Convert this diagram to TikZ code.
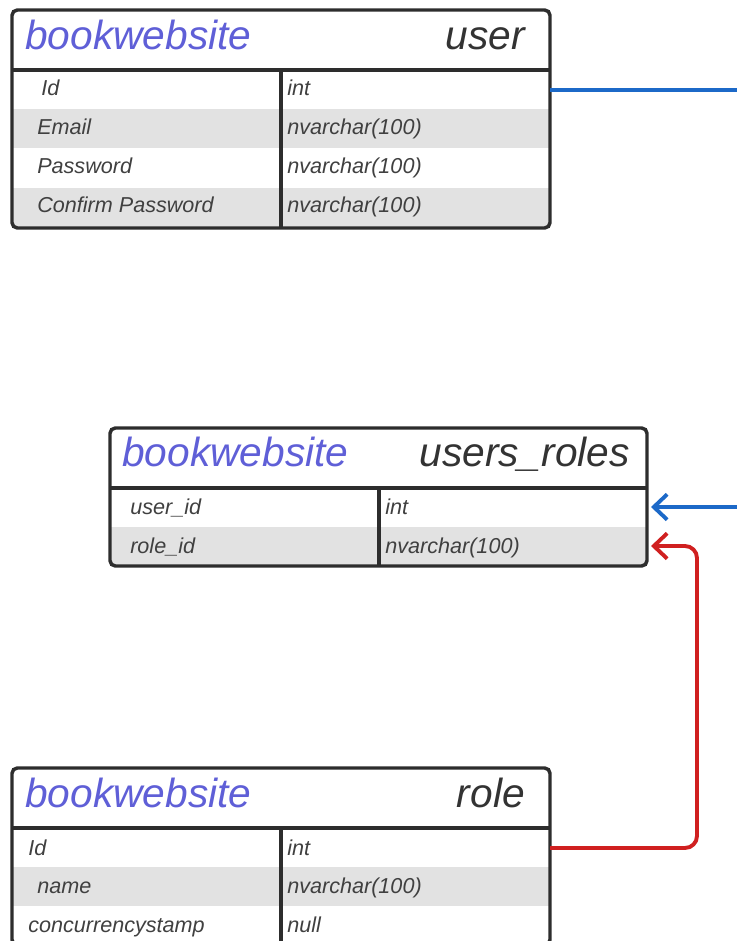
\documentclass[tikz,border=0pt]{standalone}
\usepackage{fontspec}
\setmainfont{Liberation Sans}
\usetikzlibrary{positioning,arrows.meta}

\definecolor{dbblue}{RGB}{95,95,215}
\definecolor{edgegray}{RGB}{45,45,45}
\definecolor{rowgray}{RGB}{226,226,226}
\definecolor{linkblue}{RGB}{28,105,200}
\definecolor{linkred}{RGB}{208,32,32}

\begin{document}
\begin{tikzpicture}[x=0.75pt, y=-0.75pt,
        frame/.style={draw=edgegray, line width=2.6pt, rounded corners=4pt,
            inner sep=0pt, outer sep=0pt, anchor=north west},
        rule/.style={draw=edgegray, line width=2.6pt},
        dbname/.style={anchor=base west, inner sep=0pt, text=dbblue,
            font=\itshape\fontsize{30.5}{32}\selectfont},
        tblname/.style={anchor=base east, inner sep=0pt, text=black!80,
            font=\itshape\fontsize{30.5}{32}\selectfont},
        fld/.style={anchor=base west, inner sep=0pt, text=black!75,
            font=\itshape\fontsize{16.2}{18}\selectfont},
        link/.style={line width=2.9pt, rounded corners=9pt,
            -{Straight Barb[length=10pt, width=19pt]}}]
    \useasboundingbox (0,0) rectangle (737,941);

    % Grey rows
    \fill[rowgray] (13,109) rectangle (549,148);
    \fill[rowgray] (13,188) rectangle (549,227);
    \fill[rowgray] (111,527) rectangle (646,565);
    \fill[rowgray] (13,867) rectangle (549,906);

    % Table frames
    \node[frame, minimum width=403.5pt, minimum height=163.5pt] (user) at (12,10) {};
    \node[frame, minimum width=402.75pt, minimum height=103.5pt] (ur) at (110,428) {};
    \node[frame, minimum width=403.5pt, minimum height=132.75pt] (role) at (12,768) {};

    % Header rules and column dividers
    \draw[rule] (12,70) -- (550,70);
    \draw[rule] (281,70) -- (281,228);
    \draw[rule] (110,488) -- (647,488);
    \draw[rule] (379,488) -- (379,566);
    \draw[rule] (12,828) -- (550,828);
    \draw[rule] (281,828) -- (281,945);

    % user
    \node[dbname] (user-db) at (25,50) {bookwebsite};
    \node[tblname] (user-name) at (525,50) {user};
    \node[fld] (user-id) at (41,96) {Id};
    \node[fld] (user-email) at (37,135) {Email};
    \node[fld] (user-pw) at (37,174) {Password};
    \node[fld] (user-cpw) at (37,213) {Confirm Password};
    \node[fld] (user-id-t) at (287,96) {int};
    \node[fld] (user-email-t) at (287,135) {nvarchar(100)};
    \node[fld] (user-pw-t) at (287,174) {nvarchar(100)};
    \node[fld] (user-cpw-t) at (287,213) {nvarchar(100)};

    % users_roles
    \node[dbname] (ur-db) at (122,466) {bookwebsite};
    \node[tblname] (ur-name) at (630,466) {users\_roles};
    \node[fld] (ur-uid) at (130,514) {user\_id};
    \node[fld] (ur-rid) at (130,553) {role\_id};
    \node[fld] (ur-uid-t) at (385,514) {int};
    \node[fld] (ur-rid-t) at (385,553) {nvarchar(100)};

    % role
    \node[dbname] (role-db) at (25,807) {bookwebsite};
    \node[tblname] (role-name) at (525,807) {role};
    \node[fld] (role-id) at (28,855) {Id};
    \node[fld] (role-nm) at (37,893) {name};
    \node[fld] (role-cs) at (28,932) {concurrencystamp};
    \node[fld] (role-id-t) at (287,855) {int};
    \node[fld] (role-nm-t) at (287,893) {nvarchar(100)};
    \node[fld] (role-cs-t) at (287,932) {null};

    % Connectors
    \coordinate (blueturn) at (752,90);
    \coordinate (redturn) at (697,546);
    \draw[link, linkblue] (user.east |- blueturn) -- (blueturn) |- ([xshift=3pt]ur.east |- 0,507);
    \draw[link, linkred] (role.east |- 0,848) -| (redturn) -- ([xshift=3pt]ur.east |- 0,546);
\end{tikzpicture}
\end{document}
